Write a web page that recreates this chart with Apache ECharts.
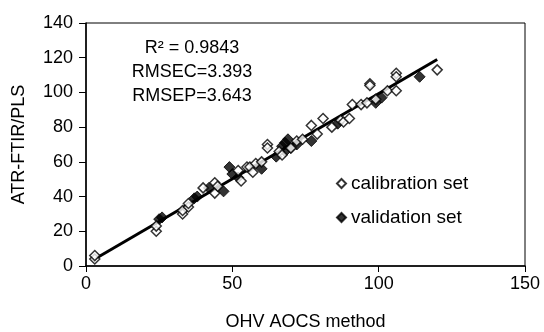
<!DOCTYPE html>
<html><head><meta charset="utf-8">
<script src="https://cdn.jsdelivr.net/npm/echarts@6/dist/echarts.min.js"></script>
<style>html,body{margin:0;padding:0;background:#fff}#c{width:544px;height:332px}</style>
</head><body><div id="c"></div>
<script>
const calX = [3,3,24,24,33,33,35,35,40,44,44,45,52,53,55,56,57,58,60,62,62,66,67,70,72,74,77,79,81,84,87,88,90,91,94,96,97,97,99,103,106,106,106,120];
const calY = [4,6,20,23,30,32,34,36,45,48,42,46,55,49,57,57,54,59,60,70,68,66,64,68,72,73,81,76,85,80,84,83,85,93,93,94,105,104,96,101,111,109,101,113];
const valX = [25,26,37,38,42,47,49,50,52,60,65,67,68,68,69,70,72,77,86,99,101,114];
const valY = [27,28,39,40,45,43,57,53,51,56,63,69,71,66,73,68,70,72,82,94,97,109];
const fitX = [3,120];
const fitY = [4,119];
const xTicks = [0,50,100,150];
const yTicks = [0,20,40,60,80,100,120,140];
const stats = ['R² = 0.9843','RMSEC=3.393','RMSEP=3.643'];

const zip = (a,b)=>a.map((v,i)=>[v,b[i]]);
const font = 'Liberation Sans, Arial, sans-serif';
const chart = echarts.init(document.getElementById('c'));
chart.setOption({
  animation:false,
  backgroundColor:'#fff',
  grid:{left:86,right:19,top:23,bottom:66,outerBoundsMode:'none',containLabel:false,show:true,borderColor:'#000',borderWidth:1,backgroundColor:'transparent'},
  xAxis:{type:'value',min:xTicks[0],max:xTicks[xTicks.length-1],interval:50,
    name:'OHV AOCS method',nameLocation:'middle',nameGap:47,
    nameTextStyle:{color:'#000',fontSize:18,fontFamily:font},
    axisLine:{lineStyle:{color:'#000',width:1.5}},
    axisTick:{inside:false,length:6,lineStyle:{color:'#000'}},
    axisLabel:{color:'#000',fontSize:18,fontFamily:font,margin:9},
    splitLine:{show:false}},
  yAxis:{type:'value',min:yTicks[0],max:yTicks[yTicks.length-1],interval:20,
    name:'ATR-FTIR/PLS',nameLocation:'middle',nameGap:58,
    nameTextStyle:{color:'#000',fontSize:18,fontFamily:font},
    axisLine:{show:true,lineStyle:{color:'#000',width:1.5}},
    axisTick:{show:true,inside:false,length:7,lineStyle:{color:'#000'}},
    axisLabel:{color:'#000',fontSize:18,fontFamily:font,margin:13},
    splitLine:{show:false}},
  legend:{orient:'vertical',left:331,top:169,itemGap:15,itemWidth:9,itemHeight:9,
    textStyle:{color:'#000',fontSize:19,fontFamily:font},
    data:[{name:'calibration set',icon:'diamond'},{name:'validation set',icon:'diamond'}]},
  graphic:stats.map((t,i)=>({type:'text',x:192,y:48+i*24,
    style:{text:t,fill:'#000',font:'18px '+font,textAlign:'center',textVerticalAlign:'middle'}})),
  series:[
    {name:'fit',type:'line',data:zip(fitX,fitY),symbol:'none',lineStyle:{color:'#000',width:3},z:1},
    {name:'calibration set',type:'scatter',data:zip(calX,calY),symbol:'diamond',symbolSize:10,
      itemStyle:{color:'#fff',borderColor:'#000',borderWidth:1.5},z:3},
    {name:'validation set',type:'scatter',data:zip(valX,valY),symbol:'diamond',symbolSize:11,
      itemStyle:{color:'#000',borderColor:'#000',borderWidth:1},z:2}
  ]
});
</script></body></html>
